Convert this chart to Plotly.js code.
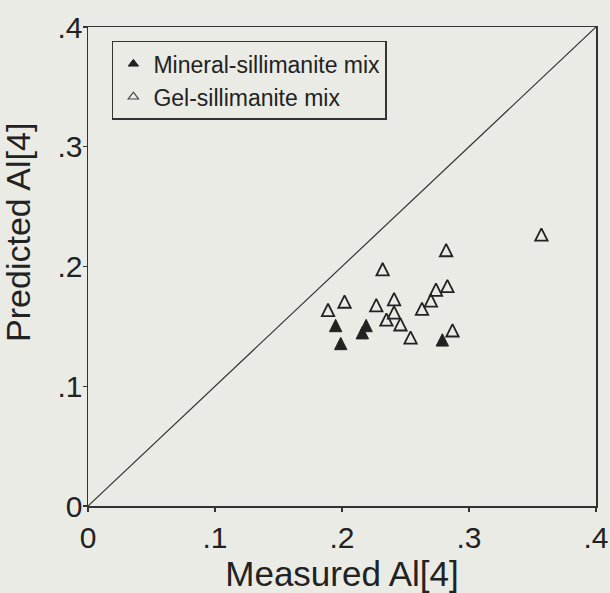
<!DOCTYPE html>
<html>
<head>
<meta charset="utf-8">
<script src="https://cdn.plot.ly/plotly-3.0.1.min.js"></script>
<style>
  html, body { margin: 0; padding: 0; background: #ebebe6; }
  #chart { width: 610px; height: 593px; }
</style>
</head>
<body>
<div id="chart"></div>
<script>
// Mineral-sillimanite mixtures: measured vs predicted Al[4]
const mineralMeasured  = [0.195, 0.199, 0.216, 0.219, 0.279];
const mineralPredicted = [0.149, 0.134, 0.143, 0.149, 0.137];

// Gel-sillimanite mixtures: measured vs predicted Al[4]
const gelMeasured  = [0.189, 0.202, 0.232, 0.227, 0.241, 0.241, 0.235, 0.246, 0.254,
                      0.263, 0.270, 0.274, 0.282, 0.283, 0.287, 0.357];
const gelPredicted = [0.162, 0.169, 0.196, 0.166, 0.171, 0.160, 0.154, 0.150, 0.139,
                      0.163, 0.170, 0.179, 0.212, 0.182, 0.145, 0.225];

// Series names
const seriesNames = ['Mineral-sillimanite mix', 'Gel-sillimanite mix'];

// 1:1 reference line
const oneToOne = [0, 0.4];

// Axis ticks
const tickValues = [0, 0.1, 0.2, 0.3, 0.4];
const tickLabels = ['0', '.1', '.2', '.3', '.4'];

const ink = '#222';
const fontFamily = 'Liberation Sans, Arial, Helvetica, sans-serif';

// Upright triangles: an inverted arrow head turned 180 degrees and pushed back
// so that its centroid sits on the data point (narrower than 'triangle-up').
const triSize = 12.4;
const triStandoff = triSize / 2 * 4 / 3;

const traces = [
  {
    x: oneToOne, y: oneToOne,
    mode: 'lines', showlegend: false, hoverinfo: 'skip',
    line: { color: '#333', width: 1.2 }
  },
  {
    name: seriesNames[0], legendgroup: 'mineral', showlegend: false,
    x: mineralMeasured, y: mineralPredicted,
    mode: 'markers', type: 'scatter',
    marker: { symbol: 'arrow-down', angle: 180, standoff: triStandoff, size: triSize,
              color: ink, line: { color: ink, width: 1 } }
  },
  {
    name: seriesNames[1], legendgroup: 'gel', showlegend: false,
    x: gelMeasured, y: gelPredicted,
    mode: 'markers', type: 'scatter',
    marker: { symbol: 'arrow-down-open', angle: 180, standoff: triStandoff, size: triSize,
              color: ink, line: { color: ink, width: 1.8 } }
  },
  // legend keys (small plain triangles, no data)
  {
    name: seriesNames[0], legendgroup: 'mineral',
    x: [null], y: [null], mode: 'markers', type: 'scatter', hoverinfo: 'skip',
    marker: { symbol: 'triangle-up', size: 9, color: ink, line: { color: ink, width: 1 } }
  },
  {
    name: seriesNames[1], legendgroup: 'gel',
    x: [null], y: [null], mode: 'markers', type: 'scatter', hoverinfo: 'skip',
    marker: { symbol: 'triangle-up-open', size: 9, color: '#444', line: { color: '#444', width: 1.2 } }
  }
];

const axisCommon = {
  range: [0, 0.4],
  tickvals: tickValues,
  ticktext: tickLabels,
  ticks: 'outside',
  ticklen: 4,
  tickwidth: 1.3,
  tickcolor: '#333',
  showline: true,
  linecolor: '#333',
  linewidth: 1.5,
  mirror: true,
  showgrid: false,
  zeroline: false,
  tickfont: { family: fontFamily, size: 30, color: ink },
  fixedrange: true
};

const layout = {
  width: 610,
  height: 593,
  margin: { l: 88, r: 14, t: 27, b: 87, pad: 0 },
  paper_bgcolor: '#ebebe6',
  plot_bgcolor: '#ebebe6',
  font: { family: fontFamily, color: ink },
  xaxis: Object.assign({}, axisCommon, {
    title: { text: 'Measured Al[4]', font: { family: fontFamily, size: 35, color: ink }, standoff: 2 }
  }),
  yaxis: Object.assign({}, axisCommon, {
    ticklabelstandoff: -6
  }),
  annotations: [
    {
      text: 'Predicted Al[4]',
      xref: 'paper', yref: 'paper',
      x: -0.138, y: 0.572,
      xanchor: 'center', yanchor: 'middle',
      textangle: -90, showarrow: false,
      font: { family: fontFamily, size: 34, color: ink }
    }
  ],
  legend: {
    x: 0.047, y: 0.971, xanchor: 'left', yanchor: 'top',
    bgcolor: 'rgba(0,0,0,0)',
    bordercolor: '#333', borderwidth: 1.5,
    font: { family: fontFamily, size: 23, color: ink },
    tracegroupgap: 0,
    traceorder: 'normal',
    itemwidth: 30
  },
  showlegend: true
};

Plotly.newPlot('chart', traces, layout, { displayModeBar: false, staticPlot: true });
</script>
</body>
</html>
